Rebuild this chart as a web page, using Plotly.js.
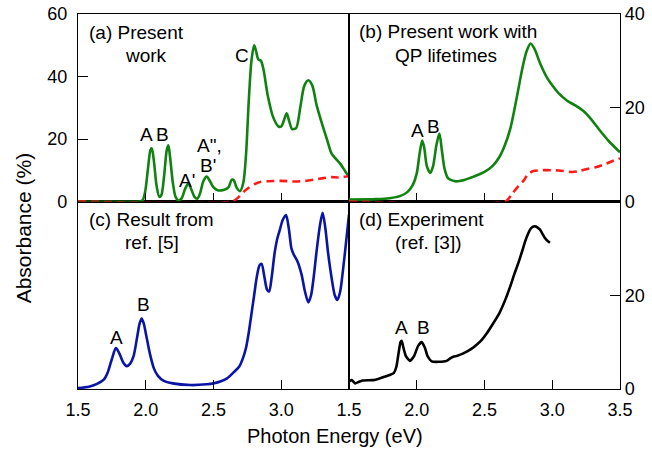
<!DOCTYPE html>
<html>
<head>
<meta charset="utf-8">
<script src="https://cdn.plot.ly/plotly-3.0.1.min.js"></script>
<style>html,body{margin:0;padding:0;background:#fff;}#chart{width:652px;height:449px;}</style>
</head>
<body>
<div id="chart"></div>
<script>
// ---- Data (photon energy in eV, absorbance in %) ----
// (a) Present work: green solid
var aGreenX = [1.50,1.95,1.975,1.995,2.015,2.035,2.045,2.06,2.08,2.10,2.115,2.135,2.155,2.167,2.18,2.20,2.22,2.24,2.265,2.29,2.315,2.335,2.36,2.38,2.40,2.425,2.45,2.47,2.50,2.53,2.58,2.61,2.635,2.65,2.67,2.695,2.72,2.74,2.76,2.78,2.80,2.815,2.83,2.85,2.87,2.90,2.94,2.98,3.00,3.02,3.04,3.06,3.08,3.11,3.14,3.17,3.20,3.23,3.26,3.30,3.34,3.37,3.40,3.44,3.47,3.50];
var aGreenY = [0,0,0.3,3,10,16.5,17,13,5,1.5,2,8,16.5,18,14,6,1.5,0.3,1,4,5.8,4,1.5,0.9,2.5,6.5,8,6.8,4.5,3.6,3.8,4.5,7,6.8,4.5,3.3,6,15,32,45,50,48,45.5,45,42,34,27,24,24,26,28.2,25.5,23.2,23.5,30,37,38.8,37,31,25,19.5,15.5,13.8,11.8,9.8,7.8];
// (a) red dashed
var aRedX = [1.50,2.64,2.68,2.72,2.76,2.80,2.85,2.90,3.00,3.10,3.20,3.30,3.37,3.42,3.50];
var aRedY = [0,0,1.2,3.0,4.4,5.5,6.3,6.5,6.6,6.4,6.7,7.4,7.8,7.7,8.1];
// (b) Present work with QP lifetimes: green solid
var bGreenX = [1.50,1.70,1.80,1.88,1.93,1.97,2.00,2.02,2.04,2.055,2.075,2.10,2.12,2.145,2.167,2.185,2.205,2.23,2.26,2.29,2.35,2.42,2.50,2.56,2.61,2.65,2.69,2.72,2.75,2.78,2.81,2.84,2.87,2.91,2.96,3.00,3.05,3.11,3.17,3.23,3.28,3.35,3.42,3.50];
var bGreenY = [0.4,0.5,0.7,1.2,2,3.5,6,10,13,11.5,7.5,6.1,7.5,12,14.5,11,7,5,4.5,4.3,4.6,5.3,6.3,7.6,9.5,12,15.5,19.5,24,28.5,32,33.7,32.5,29.5,26.5,24.8,23,21.5,20.5,19.3,17.8,15.2,12.8,10.5];
// (b) red dashed
var bRedX = [1.50,2.655,2.70,2.75,2.79,2.82,2.86,2.95,3.05,3.15,3.20,3.25,3.32,3.40,3.45,3.50];
var bRedY = [0,0,1.5,3.3,4.5,5.8,6.5,6.7,6.6,6.3,6.5,6.9,7.3,8.1,8.7,9.2];
// (c) Result from ref. [5]: blue solid (arbitrary units)
var cBlueX = [1.50,1.58,1.64,1.69,1.72,1.75,1.78,1.805,1.835,1.86,1.885,1.91,1.935,1.955,1.97,1.985,2.005,2.03,2.06,2.09,2.13,2.20,2.33,2.45,2.50,2.56,2.60,2.65,2.69,2.72,2.74,2.76,2.78,2.80,2.82,2.84,2.855,2.875,2.895,2.91,2.93,2.95,2.97,2.99,3.01,3.035,3.055,3.075,3.09,3.12,3.15,3.175,3.20,3.22,3.24,3.26,3.285,3.305,3.325,3.345,3.37,3.395,3.414,3.435,3.455,3.475,3.50];
var cBlueY = [0.005,0.012,0.027,0.05,0.09,0.16,0.218,0.19,0.14,0.122,0.135,0.175,0.27,0.35,0.376,0.35,0.28,0.19,0.11,0.07,0.045,0.03,0.021,0.025,0.03,0.043,0.057,0.09,0.12,0.17,0.22,0.30,0.40,0.50,0.60,0.66,0.667,0.60,0.53,0.52,0.60,0.72,0.80,0.85,0.90,0.928,0.86,0.75,0.72,0.68,0.61,0.52,0.462,0.50,0.60,0.73,0.87,0.94,0.86,0.73,0.60,0.50,0.475,0.52,0.63,0.76,0.93];
// (d) Experiment (ref. [3]): black solid
var dBlackX = [1.50,1.52,1.545,1.57,1.60,1.68,1.72,1.76,1.80,1.83,1.85,1.865,1.88,1.889,1.90,1.92,1.95,1.98,2.01,2.037,2.06,2.08,2.11,2.16,2.22,2.25,2.27,2.30,2.344,2.40,2.44,2.48,2.52,2.56,2.61,2.65,2.69,2.72,2.75,2.78,2.80,2.82,2.836,2.855,2.873,2.89,2.91,2.93,2.946,2.965,2.983];
var dBlackY = [1.6,1.9,1.2,1.5,1.8,1.9,2.2,2.6,3.0,3.4,4.8,7.5,10.0,10.3,9.0,7.0,6.0,7.0,9.2,10.0,8.8,7.0,5.9,5.8,6.0,6.6,6.9,7.1,7.6,8.5,9.4,10.5,12.0,13.8,16.2,18.8,21.9,24.5,26.9,29.6,31.5,33.0,34.0,34.6,34.7,34.5,34.0,33.0,32.2,31.6,31.2];
// Tick labels
var xTickVals = [1.5,2.0,2.5,3.0,3.5];
var xTickTextLeft = ['1.5','2.0','2.5','3.0',''];
var xTickTextRight = ['1.5','2.0','2.5','3.0','3.5'];
var yTickValsA = [0,20,40,60];
var yTickValsB = [0,20,40];
var yTickTextD = ['0','20',''];

var GREEN = '#0f820f', RED = '#ff1a1a', BLUE = '#0a14a5', BLACK = '#000000';
var LW = 2.6;

var traces = [
  {x:aGreenX, y:aGreenY, xaxis:'x3', yaxis:'y3', mode:'lines', line:{color:GREEN, width:LW, shape:'spline', smoothing:0.8}},
  {x:aRedX, y:aRedY, xaxis:'x3', yaxis:'y3', mode:'lines', line:{color:RED, width:LW, dash:'8px,5px', shape:'spline', smoothing:0.6}},
  {x:bGreenX, y:bGreenY, xaxis:'x4', yaxis:'y4', mode:'lines', line:{color:GREEN, width:LW, shape:'spline', smoothing:0.8}},
  {x:bRedX, y:bRedY, xaxis:'x4', yaxis:'y4', mode:'lines', line:{color:RED, width:LW, dash:'8px,5px', shape:'spline', smoothing:0.6}},
  {x:cBlueX, y:cBlueY, xaxis:'x', yaxis:'y', mode:'lines', line:{color:BLUE, width:LW, shape:'spline', smoothing:0.8}},
  {x:dBlackX, y:dBlackY, xaxis:'x2', yaxis:'y2', mode:'lines', line:{color:BLACK, width:LW, shape:'spline', smoothing:0.5}}
];

var FONT = 'Liberation Sans, Arial, Helvetica, sans-serif';
var TF = {family:FONT, size:18, color:'#000'};
function xax(dom, anchor, labels, text){
  return {domain:dom, anchor:anchor, range:[1.5,3.5], tickmode:'array', tickvals:xTickVals, ticktext:text,
    showticklabels:labels, ticks:'inside', ticklen:9, tickcolor:'#000', tickwidth:1,
    showline:true, linecolor:'#000', linewidth:1.2, mirror:true, showgrid:false, zeroline:false,
    tickfont:TF, ticklabelstandoff:4};
}
function yax(dom, anchor, side, range, vals, text, labels){
  var o = {domain:dom, anchor:anchor, side:side, range:range, tickmode:'array', tickvals:vals,
    showticklabels:labels, ticks: labels ? 'inside' : '', ticklen:10, tickcolor:'#000', tickwidth:1,
    showline:true, linecolor:'#000', linewidth:1.2, mirror:true, showgrid:false, zeroline:false, tickfont:TF};
  if (text) o.ticktext = text;
  return o;
}

var AF = {family:FONT, size:19, color:'#000'};
function ann(text, x, y, xr, yr, xa){
  return {text:text, x:x, y:y, xref:xr, yref:yr, xanchor:xa||'center', yanchor:'middle', showarrow:false, font:AF};
}

var annotations = [
  ann('(a) Present', 1.564, 54.2, 'x3', 'y3', 'left'),
  ann('work', 1.83, 46.8, 'x3', 'y3', 'left'),
  ann('A', 2.004, 21.5, 'x3', 'y3'),
  ann('B', 2.124, 21.5, 'x3', 'y3'),
  ann("A'", 2.304, 6.7, 'x3', 'y3'),
  ann('A",', 2.363, 17.8, 'x3', 'y3', 'left'),
  ann("B'", 2.462, 11.6, 'x3', 'y3'),
  ann('C', 2.708, 46.8, 'x3', 'y3'),
  ann('(b) Present work with', 1.557, 36.3, 'x4', 'y4', 'left'),
  ann('QP lifetimes', 1.827, 31.2, 'x4', 'y4', 'left'),
  ann('A', 2.006, 15.2, 'x4', 'y4'),
  ann('B', 2.122, 15.9, 'x4', 'y4'),
  ann('(c) Result from', 1.564, 0.906, 'x', 'y', 'left'),
  ann('ref. [5]', 1.83, 0.781, 'x', 'y', 'left'),
  ann('A', 1.783, 0.273, 'x', 'y'),
  ann('B', 1.98, 0.453, 'x', 'y'),
  ann('(d) Experiment', 1.561, 36.2, 'x2', 'y2', 'left'),
  ann('(ref. [3])', 1.827, 31.2, 'x2', 'y2', 'left'),
  ann('A', 1.889, 13.2, 'x2', 'y2'),
  ann('B', 2.048, 13.2, 'x2', 'y2'),
  {text:'Photon Energy (eV)', x:0.474, y:-0.125, xref:'paper', yref:'paper', xanchor:'center', yanchor:'middle', showarrow:false, font:{family:FONT, size:20, color:'#000'}},
  {text:'Absorbance (%)', x:-0.1015, y:0.431, xref:'paper', yref:'paper', xanchor:'center', yanchor:'middle', textangle:-90, showarrow:false, font:{family:FONT, size:21, color:'#000'}}
];

var layout = {
  width:652, height:449,
  margin:{l:78, r:32, t:14, b:60, pad:0},
  paper_bgcolor:'#fff', plot_bgcolor:'#fff',
  showlegend:false,
  font:{family:FONT, size:18, color:'#000'},
  xaxis: xax([0,0.5], 'y', true, xTickTextLeft),
  xaxis2: xax([0.5,1], 'y2', true, xTickTextRight),
  xaxis3: xax([0,0.5], 'y3', false, xTickTextLeft),
  xaxis4: xax([0.5,1], 'y4', false, xTickTextRight),
  yaxis: yax([0,0.5], 'x', 'left', [0,1], [0,0.5,1], null, false),
  yaxis2: yax([0,0.5], 'x2', 'right', [0,40], yTickValsB, yTickTextD, true),
  yaxis3: yax([0.5,1], 'x3', 'left', [0,60], yTickValsA, null, true),
  yaxis4: yax([0.5,1], 'x4', 'right', [0,40], yTickValsB, null, true),
  annotations: annotations
};
layout.yaxis3.ticklabelstandoff = 6;

Plotly.newPlot('chart', traces, layout, {staticPlot:true, displayModeBar:false});
</script>
</body>
</html>
